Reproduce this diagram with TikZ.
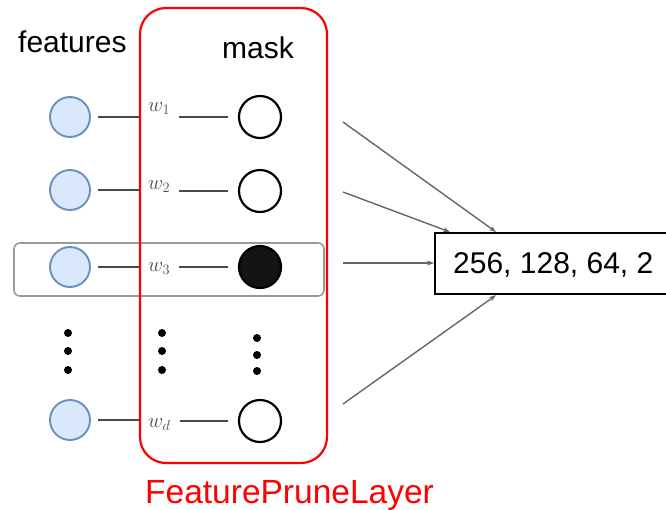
\documentclass[tikz,border=0pt]{standalone}
\usepackage[no-math]{fontspec}
\newfontfamily\arialf{Liberation Sans}
\usetikzlibrary{arrows.meta,calc}
\definecolor{featfill}{HTML}{DAE8FC}
\definecolor{featdraw}{HTML}{6C8EBF}
\definecolor{wcol}{HTML}{4A4A5C}
\definecolor{linecol}{HTML}{4A4A4A}
\definecolor{arrcol}{HTML}{666666}
\definecolor{rowbox}{HTML}{999999}
\tikzset{
  featnode/.style={circle, draw=featdraw, fill=featfill, line width=1.9pt, minimum size=40pt, inner sep=0pt},
  masknode/.style={circle, draw=black, line width=2.2pt, minimum size=42pt, inner sep=0pt},
  maskon/.style={masknode, fill=black!92},
  dotnode/.style={circle, fill=black, minimum size=8pt, inner sep=0pt},
  wlabel/.style={text=wcol, inner sep=0pt, anchor=base west, font=\fontsize{21}{24}\selectfont},
  link/.style={draw=linecol, line width=1.8pt},
  feedarrow/.style={draw=arrcol, line width=1.4pt, -{Stealth[length=7pt,width=5pt]}},
  bigtext/.style={inner sep=0pt, font=\arialf\fontsize{30}{36}\selectfont},
}
\begin{document}
\begin{tikzpicture}[x=1pt,y=-1pt]
\useasboundingbox (0,0) rectangle (666,509);
% row highlight box
\node (rowbox) [draw=rowbox, line width=1.6pt, rounded corners=6pt, minimum width=310pt, minimum height=53pt, inner sep=0pt] at (169,269.5) {};
% red layer box
\node (layer) [draw=red, line width=2.2pt, rounded corners=26pt, minimum width=187pt, minimum height=455pt, inner sep=0pt] at (233.5,235.5) {};
% titles
\node[bigtext, anchor=base west] (ftitle) at (18,52) {features};
\node[bigtext, anchor=base] (mtitle) at (258,58) {mask};
\node[bigtext, anchor=base west, text=red, font=\arialf\fontsize{33.5}{38}\selectfont] (ltitle) at (145,503) {FeaturePruneLayer};
% feature nodes
\node[featnode] (f1) at (70,117) {};
\node[featnode] (f2) at (70,190) {};
\node[featnode] (f3) at (70,267) {};
\node[featnode] (fd) at (70,420) {};
% mask nodes
\node[masknode] (m1) at (260,117) {};
\node[masknode] (m2) at (260,191) {};
\node[maskon]   (m3) at (260,267) {};
\node[masknode] (md) at (260,421) {};
% weight labels
\node[wlabel] (w1) at (148,111) {$w_1$};
\node[wlabel] (w2) at (148,189) {$w_2$};
\node[wlabel] (w3) at (148,271) {$w_3$};
\node[wlabel] (wd) at (148,427) {$w_d$};
% links
\foreach \r in {1,2,3,d}{
  \draw[link, shorten <=7pt, shorten >=8pt] (f\r.east) -- (f\r.east -| w\r.west);
  \draw[link, shorten <=9pt, shorten >=10pt] (w\r.east |- m\r.west) -- (m\r.west);
}
% dots
\foreach \c/\x/\a/\b/\d in {a/68/333/351/370, b/162/333/351/370, c/257/338/355/371}{
  \node[dotnode] (dot\c1) at (\x,\a) {};
  \node[dotnode] (dot\c2) at (\x,\b) {};
  \node[dotnode] (dot\c3) at (\x,\d) {};
}
% output box
\node (out) [draw=black, line width=2.2pt, minimum width=280pt, minimum height=61pt, inner sep=0pt, anchor=north west] at (434,232) {};
\node[bigtext, anchor=base west] (outtext) at (453,273) {256, 128, 64, 2};
% arrows
\coordinate (s1) at (343,122);
\coordinate (s2) at (343,192);
\coordinate (s3) at (343,263);
\coordinate (s4) at (343,404);
\draw[feedarrow] (s1) -- ($(out.north west)+(62,0)$);
\draw[feedarrow] (s2) -- ($(out.north west)+(16,0)$);
\draw[feedarrow] (s3) -- (s3 -| out.west);
\draw[feedarrow] (s4) -- ($(out.south west)+(62,0)$);
\end{tikzpicture}
\end{document}
